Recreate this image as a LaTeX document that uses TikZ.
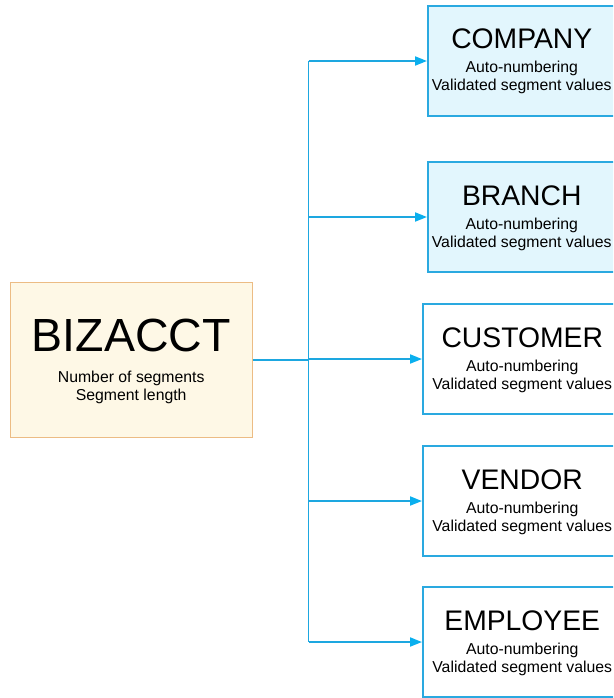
\documentclass[tikz,border=0pt]{standalone}
\usepackage{fontspec}
\setmainfont{Liberation Sans}
\usetikzlibrary{arrows.meta}

\definecolor{linkblue}{HTML}{1DA7E0}
\definecolor{tipblue}{HTML}{0AAFEE}
\definecolor{boxline}{HTML}{2AA9E0}
\definecolor{boxfill}{HTML}{E2F6FD}
\definecolor{rootfill}{HTML}{FEF8E6}
\definecolor{rootline}{HTML}{ECBC84}

\tikzset{
  rootbox/.style={draw=rootline, fill=rootfill, line width=1.4pt,
    minimum width=242pt, minimum height=155pt, inner sep=0pt, anchor=north west},
  segbox/.style={draw=boxline, line width=1.5pt,
    minimum height=110pt, inner sep=0pt, anchor=west},
  keyseg/.style={segbox, fill=boxfill, minimum width=188pt},
  plainseg/.style={segbox, fill=white, minimum width=199pt},
  bigtitle/.style={font=\fontsize{46.5}{50}\selectfont, anchor=base, inner sep=0pt},
  segtitle/.style={font=\fontsize{28.3}{30}\selectfont, anchor=base, inner sep=0pt},
  detail/.style={font=\fontsize{15.8}{18}\selectfont, anchor=base, inner sep=0pt},
  link/.style={color=linkblue, line width=1.8pt},
  arrowlink/.style={link, -{Triangle[length=12pt, width=9pt, color=tipblue, fill=tipblue]}},
}

\begin{document}
\begin{tikzpicture}[x=1pt, y=-1pt]
\useasboundingbox (0,0) rectangle (613,698);
\clip (0,0) rectangle (613,698);

% root account structure
\node[rootbox] (biz) at (9.5,281.5) {};
\node[bigtitle] (biztitle) at ([yshift=8pt]biz.center) {BIZACCT};
\node[detail] (bizl1) at ([yshift=-23pt]biz.center) {Number of segments};
\node[detail] (bizl2) at ([yshift=-41pt]biz.center) {Segment length};

% segment boxes
\node[keyseg] (company) at (427,61) {};
\node[keyseg] (branch) at (427,217) {};
\node[plainseg] (customer) at (422,359) {};
\node[plainseg] (vendor) at (422,501) {};
\node[plainseg] (employee) at (422,642) {};

\foreach \b/\t in {company/COMPANY, branch/BRANCH, customer/CUSTOMER, vendor/VENDOR, employee/EMPLOYEE}{
  \node[segtitle] (\b-title) at ([yshift=12pt]\b.center) {\t};
  \node[detail] (\b-l1) at ([yshift=-12pt]\b.center) {Auto-numbering};
  \node[detail] (\b-l2) at ([yshift=-30pt]\b.center) {Validated segment values};
}

% connector tree
\coordinate (jtop) at (308.5,61);
\coordinate (jbot) at (308.5,642);
\coordinate (jmid) at (biz.east -| jtop);
\draw[link] (jtop) -- (jbot);
\draw[link] (biz.east) -- (jmid);
\foreach \b in {company, branch, customer, vendor, employee}{
  \draw[arrowlink] (\b.west -| jtop) -- (\b.west);
}
\end{tikzpicture}
\end{document}
